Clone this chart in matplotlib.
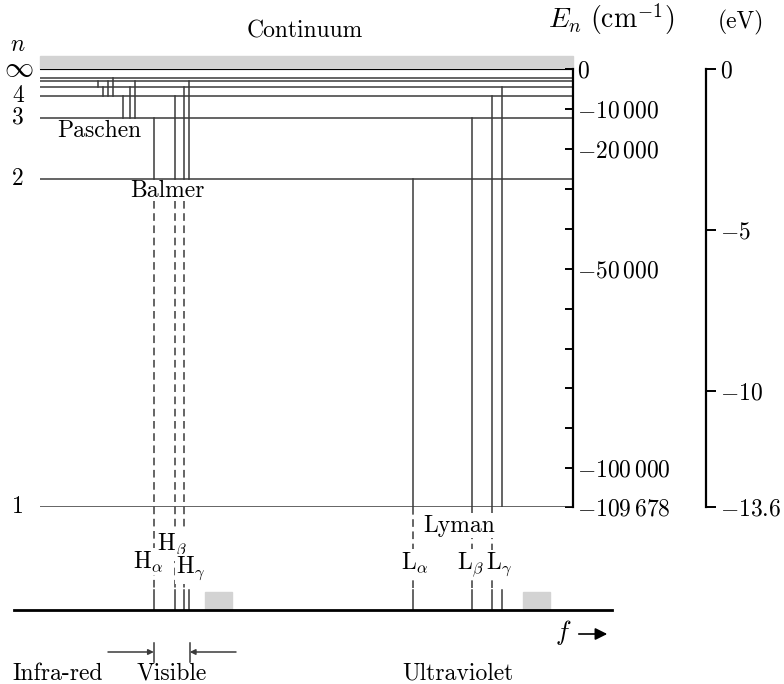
import matplotlib.pyplot as plt
from matplotlib.patches import Rectangle

plt.rcParams['mathtext.fontset'] = 'cm'
plt.rcParams['font.family'] = 'cmr10'
plt.rcParams['axes.unicode_minus'] = False

# hydrogen term values (cm^-1)
n_levels = [1, 2, 3, 4, 5, 6, 7]
E_levels = [-109678, -27420, -12186, -6855, -4387, -3047, -2238]
level_labels = {1: '1', 2: '2', 3: '3', 4: '4'}

# transitions: (upper n, lower n, wavenumber cm^-1)
lyman = [(2, 1, 82259), (3, 1, 97492), (4, 1, 102824), (5, 1, 105291)]
balmer = [(3, 2, 15233), (4, 2, 20565), (5, 2, 23032), (6, 2, 24373)]
paschen = [(4, 3, 7300), (5, 3, 9030), (6, 3, 10330)]
brackett = [(5, 4, 2120), (6, 4, 3420), (7, 4, 4710)]
pfund = [(6, 5, 830)]

lyman_names = [r'$\mathrm{L}_\alpha$', r'$\mathrm{L}_\beta$', r'$\mathrm{L}_\gamma$']
balmer_names = [r'$\mathrm{H}_\alpha$', r'$\mathrm{H}_\beta$', r'$\mathrm{H}_\gamma$']

# series limit marks on the spectrum (cm^-1)
limit_marks = [28400, 110700]
limit_width = 7000
visible_range = [15200, 24500]

cm_ticks = [0, -10000, -20000, -30000, -40000, -50000, -60000, -70000,
            -80000, -90000, -100000, -109678]
cm_labels = {0: '$0$', -10000: r'$-10\,000$', -20000: r'$-20\,000$',
             -50000: r'$-50\,000$', -100000: r'$-100\,000$',
             -109678: r'$-109\,678$'}
ev_ticks = [0, -5, -10, -13.6]
ev_labels = ['$0$', '$-5$', '$-10$', '$-13.6$']

W, H = 784, 684
fig = plt.figure(figsize=(W / 100, H / 100), dpi=100)
ax = fig.add_axes([40 / W, (H - 507) / H, 533 / W, 438 / H])
ax.set_xlim(-14260, 123680)
ax.set_ylim(E_levels[0], 0)
ax.patch.set_visible(False)

def x_at(px):
    return ax.transData.inverted().transform((px, 0))[0]

def y_at(px):
    return ax.transData.inverted().transform((0, H - px))[1]

def ftext(x, y, s, **kw):
    kw.setdefault('fontsize', 17)
    return fig.text(x / W, 1 - y / H, s, **kw)

lc = '#3a3a3a'

# continuum and levels
ax.add_patch(Rectangle((ax.get_xlim()[0], 0), ax.get_xlim()[1] - ax.get_xlim()[0],
                       y_at(56) - 0, color='#d3d3d3', clip_on=False, zorder=0))
ax.axhline(0, color='black', lw=1.5)
for n, E in zip(n_levels, E_levels):
    ax.axhline(E, color=lc, lw=1.1)

# transitions between levels
E_of = dict(zip(n_levels, E_levels))
for series in [lyman, balmer, paschen, brackett, pfund]:
    for up, lo, k in series:
        ax.plot([k, k], [E_of[up], E_of[lo]], color=lc, lw=1.1)

# lines continued down to the spectrum
y_solid = y_at(590)
y_base = y_at(610)
dash_start = {1: E_of[1], 2: y_at(201)}
for series in [lyman, balmer]:
    for i, (up, lo, k) in enumerate(series):
        if i < 3:
            ax.plot([k, k], [dash_start[lo], y_solid], color=lc, lw=1.1,
                    ls=(0, (5, 3)), clip_on=False)
        ax.plot([k, k], [y_solid, y_base], color=lc, lw=1.1, clip_on=False)

for k0 in limit_marks:
    ax.add_patch(Rectangle((k0, y_base), limit_width, y_at(592) - y_base,
                           color='#d3d3d3', clip_on=False, zorder=0))
ax.plot([x_at(14), x_at(612)], [y_base, y_base], color='black', lw=2,
        clip_on=False)

# cm^-1 axis
for s in ['left', 'top', 'bottom']:
    ax.spines[s].set_visible(False)
ax.spines['right'].set_linewidth(1.6)
ax.set_xticks([])
ax.yaxis.tick_right()
ax.set_yticks(cm_ticks)
ax.set_yticklabels([cm_labels.get(t, '') for t in cm_ticks])
ax.tick_params(axis='y', direction='in', length=6, width=1.4, pad=3,
               labelsize=17)

# eV axis
ax2 = fig.add_axes([705 / W, (H - 507) / H, 1 / W, 438 / H])
ax2.set_ylim(-13.6, 0)
ax2.patch.set_visible(False)
for s in ['left', 'top', 'bottom']:
    ax2.spines[s].set_visible(False)
ax2.spines['right'].set_linewidth(1.6)
ax2.set_xticks([])
ax2.yaxis.tick_right()
ax2.set_yticks(ev_ticks)
ax2.set_yticklabels(ev_labels)
ax2.tick_params(axis='y', direction='out', length=7, width=1.4, pad=3,
                labelsize=17)

# level numbers
ftext(18, 45, r'$n$', ha='center', va='center')
ftext(19, 69, r'$\infty$', ha='center', va='center', fontsize=21)
for n, E in zip(n_levels, E_levels):
    if n in level_labels:
        ax.text(x_at(18), E, level_labels[n], ha='center', va='center',
                fontsize=17)

# labels
wb = dict(facecolor='white', edgecolor='none', pad=1)
ftext(305, 38, 'Continuum', ha='center', va='baseline')
ftext(548, 28, r'$E_n\ (\mathrm{cm}^{-1})$', ha='left', va='baseline',
      fontsize=20)
ftext(718, 28, '(eV)', ha='left', va='baseline')
ftext(57, 137, 'Paschen', ha='left', va='baseline')
ftext(130, 197, 'Balmer', ha='left', va='baseline')
ftext(423, 532, 'Lyman', ha='left', va='baseline', bbox=wb)
for name, (x, y) in zip(balmer_names, [(133, 568), (157, 550), (176, 573)]):
    ftext(x, y, name, ha='left', va='baseline', bbox=wb)
for name, (x, y) in zip(lyman_names, [(401, 569), (457, 569), (486, 569)]):
    ftext(x, y, name, ha='left', va='baseline', bbox=wb)

# frequency arrow
ftext(563, 640, r'$f$', ha='center', va='baseline', fontsize=19)
ax.annotate('', xy=(610 / W, 1 - 634 / H), xytext=(576 / W, 1 - 634 / H),
            xycoords='figure fraction', textcoords='figure fraction',
            arrowprops=dict(arrowstyle='-|>', color='black', lw=1.2,
                            mutation_scale=18))

# visible range markers
for k in visible_range:
    ax.plot([k, k], [y_at(643), y_at(662)], color=lc, lw=1.1, clip_on=False)
ax.annotate('', xy=(visible_range[0], y_at(652)), xytext=(x_at(108), y_at(652)),
            arrowprops=dict(arrowstyle='-|>', color=lc, lw=1.1,
                            mutation_scale=8, shrinkA=0, shrinkB=0),
            annotation_clip=False)
ax.annotate('', xy=(visible_range[1], y_at(652)), xytext=(x_at(236), y_at(652)),
            arrowprops=dict(arrowstyle='-|>', color=lc, lw=1.1,
                            mutation_scale=8, shrinkA=0, shrinkB=0),
            annotation_clip=False)

ftext(12, 680, 'Infra-red', ha='left', va='baseline')
ftext(137, 680, 'Visible', ha='left', va='baseline')
ftext(402, 680, 'Ultraviolet', ha='left', va='baseline')

fig.savefig('out.png', dpi=100)
